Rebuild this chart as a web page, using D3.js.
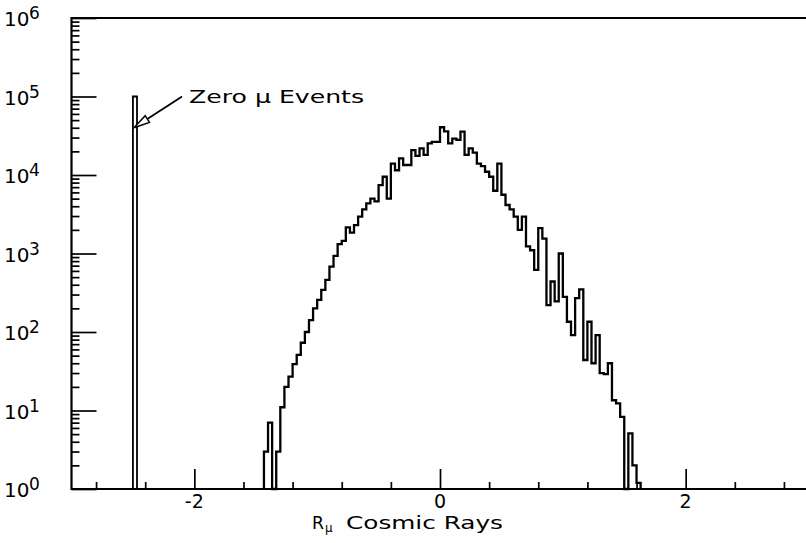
<!DOCTYPE html>
<html>
<head>
<meta charset="utf-8">
<script src="https://cdn.jsdelivr.net/npm/d3@7"></script>
<style>
	html, body {margin: 0; padding: 0; background: #fff; overflow: hidden;}
	#chart {display: block; overflow: hidden;}
	svg text {font-family: "DejaVu Sans", sans-serif; fill: #000;}
</style>
</head>
<body>
<svg id="chart" width="806" height="543"></svg>
<script>
// bins are 1/30 wide; the main peak starts at bin index -43 (R = -43/30)
var binWidth = 1 / 30;
var peakFirstBin = -43;
var peakCounts = [
	3, 7, 0, 3, 11, 20, 27, 39, 51, 73,
	100, 142, 200, 257, 345, 460, 680, 930, 1320, 1450,
	2150, 1850, 2300, 2950, 3650, 4350, 5000, 4600, 7450, 9500,
	5000, 14000, 11500, 16300, 13400, 13400, 20800, 17500, 21900, 18000,
	25300, 26500, 26500,
	40600, 36000, 25300, 29000, 28000, 35600, 18000, 21900, 19300, 14000,
	13000, 11000, 9500, 6300, 14000, 5600, 4150, 3650, 2950, 2000,
	2950, 1230, 1100, 620, 2100, 1550, 220, 440, 245, 1000,
	280, 135, 91, 270, 350, 44, 135, 40, 91, 30,
	29, 40, 13.5, 12.3, 8.3, 0, 5.1, 2, 1.2];
// the "zero mu" events sit in a single bin at R = -2.5
var zeroMuBin = [-75];
var zeroMuCount = [100000];

var yDecades = [0, 1, 2, 3, 4, 5, 6];
var xMajorTicks = [-2, 0, 2];
var xMajorLabels = ['-2', '0', '2'];
var xMinorTicks = [-2.8, -2.4, -1.6, -1.2, -0.8, -0.4, 0.4, 0.8, 1.2, 1.6, 2.4, 2.8];
var annotationText = 'Zero \u03bc Events';
var xTitle = ['R', '\u03bc', 'Cosmic Rays'];

(function() {
	'use strict';

	var svg = d3.select('#chart');
	var x = d3.scaleLinear().domain([-3, 3]).range([71.5, 808.5]);
	var y = d3.scaleLog().domain([1, 1e6]).range([489, 18]);
	var ink = '#000';
	var xEnd = 806;   // the picture cuts the frame off before its right side

	// frame: top, left, bottom
	svg.append('path')
		.attr('d', 'M' + xEnd + ',' + y(1e6) + 'H' + x(-3) + 'V' + y(1) + 'H' + xEnd)
		.attr('fill', 'none').attr('stroke', ink).attr('stroke-width', 2.2);

	// y ticks, pointing into the plot
	var yMinor = [];
	yDecades.slice(0, -1).forEach(function(e) {
		for (var m = 2; m < 10; ++m) {yMinor.push(m * Math.pow(10, e));}});
	function styleAxis(g) {
		g.select('.domain').remove();
		g.selectAll('.tick line').attr('stroke', ink).attr('stroke-width', 1.7);
		g.selectAll('.tick text').remove();}

	svg.append('g').attr('transform', 'translate(' + x(-3) + ',0)')
		.call(d3.axisRight(y).tickValues(yDecades.map(function(e) {return Math.pow(10, e);}))
			.tickSize(25).tickFormat(''))
		.call(styleAxis);
	svg.append('g').attr('transform', 'translate(' + x(-3) + ',0)')
		.call(d3.axisRight(y).tickValues(yMinor).tickSize(8).tickFormat(''))
		.call(styleAxis);

	// x ticks, pointing up
	svg.append('g').attr('transform', 'translate(0,' + y(1) + ')')
		.call(d3.axisTop(x).tickValues(xMajorTicks).tickSize(20).tickFormat(''))
		.call(styleAxis);
	svg.append('g').attr('transform', 'translate(0,' + y(1) + ')')
		.call(d3.axisTop(x).tickValues(xMinorTicks).tickSize(7).tickFormat(''))
		.call(styleAxis);

	// y labels: 10 with a raised exponent
	var yLab = svg.append('g').selectAll('g').data(yDecades).join('g')
		.attr('transform', function(e) {return 'translate(0,' + y(Math.pow(10, e)) + ')';});
	yLab.append('text').attr('x', 4).attr('y', 8)
		.attr('font-size', 20).text('10');
	yLab.append('text').attr('x', 29).attr('y', 1)
		.attr('font-size', 17).text(function(e) {return e;});

	// x labels
	svg.append('g').selectAll('text').data(xMajorTicks).join('text')
		.attr('x', function(d) {return x(d);}).attr('y', 508)
		.attr('text-anchor', 'middle').attr('font-size', 19)
		.text(function(d, i) {return xMajorLabels[i];});

	svg.append('text').attr('x', 312).attr('y', 529).attr('font-size', 17)
		.attr('textLength', 12).attr('lengthAdjust', 'spacingAndGlyphs').text(xTitle[0]);
	svg.append('text').attr('x', 325).attr('y', 532).attr('font-size', 12)
		.text(xTitle[1]);
	svg.append('text').attr('x', 346).attr('y', 529).attr('font-size', 17)
		.attr('textLength', 157).attr('lengthAdjust', 'spacingAndGlyphs').text(xTitle[2]);

	// histogram outlines
	function stepPoints(firstBin, values) {
		var lo = firstBin * binWidth;
		var pts = [[lo, 1]];
		values.forEach(function(v, i) {
			var a = lo + i * binWidth, h = Math.max(v, 1);
			pts.push([a, h], [a + binWidth, h]);});
		pts.push([lo + values.length * binWidth, 1]);
		return pts;}

	var line = d3.line()
		.x(function(d) {return x(d[0]);})
		.y(function(d) {return y(d[1]);});

	svg.append('path').datum(stepPoints(peakFirstBin, peakCounts))
		.attr('d', line).attr('fill', 'none').attr('stroke', ink)
		.attr('stroke-width', 2.3).attr('stroke-linejoin', 'miter');
	svg.append('path').datum(stepPoints(zeroMuBin[0], zeroMuCount))
		.attr('d', line).attr('fill', 'none').attr('stroke', ink)
		.attr('stroke-width', 1.8);

	// annotation arrow with an open head
	var tip = [x(-2.5) + 1, y(4e4)];
	var tail = [x(-2.1), y(1e5)];
	var dx = tip[0] - tail[0], dy = tip[1] - tail[1];
	var len = Math.sqrt(dx * dx + dy * dy), ux = dx / len, uy = dy / len;
	var headLen = 16, headW = 4;
	var base = [tip[0] - ux * headLen, tip[1] - uy * headLen];
	svg.append('line')
		.attr('x1', tail[0]).attr('y1', tail[1]).attr('x2', base[0]).attr('y2', base[1])
		.attr('stroke', ink).attr('stroke-width', 1.8);
	svg.append('polygon')
		.attr('points', [
			tip,
			[base[0] - uy * headW, base[1] + ux * headW],
			[base[0] + uy * headW, base[1] - ux * headW]].join(' '))
		.attr('fill', '#fff').attr('stroke', ink).attr('stroke-width', 1.5);
	svg.append('text').attr('x', tail[0] + 7).attr('y', tail[1] + 6)
		.attr('font-size', 18).attr('textLength', 175)
		.attr('lengthAdjust', 'spacingAndGlyphs').text(annotationText);
})();
</script>
</body>
</html>
